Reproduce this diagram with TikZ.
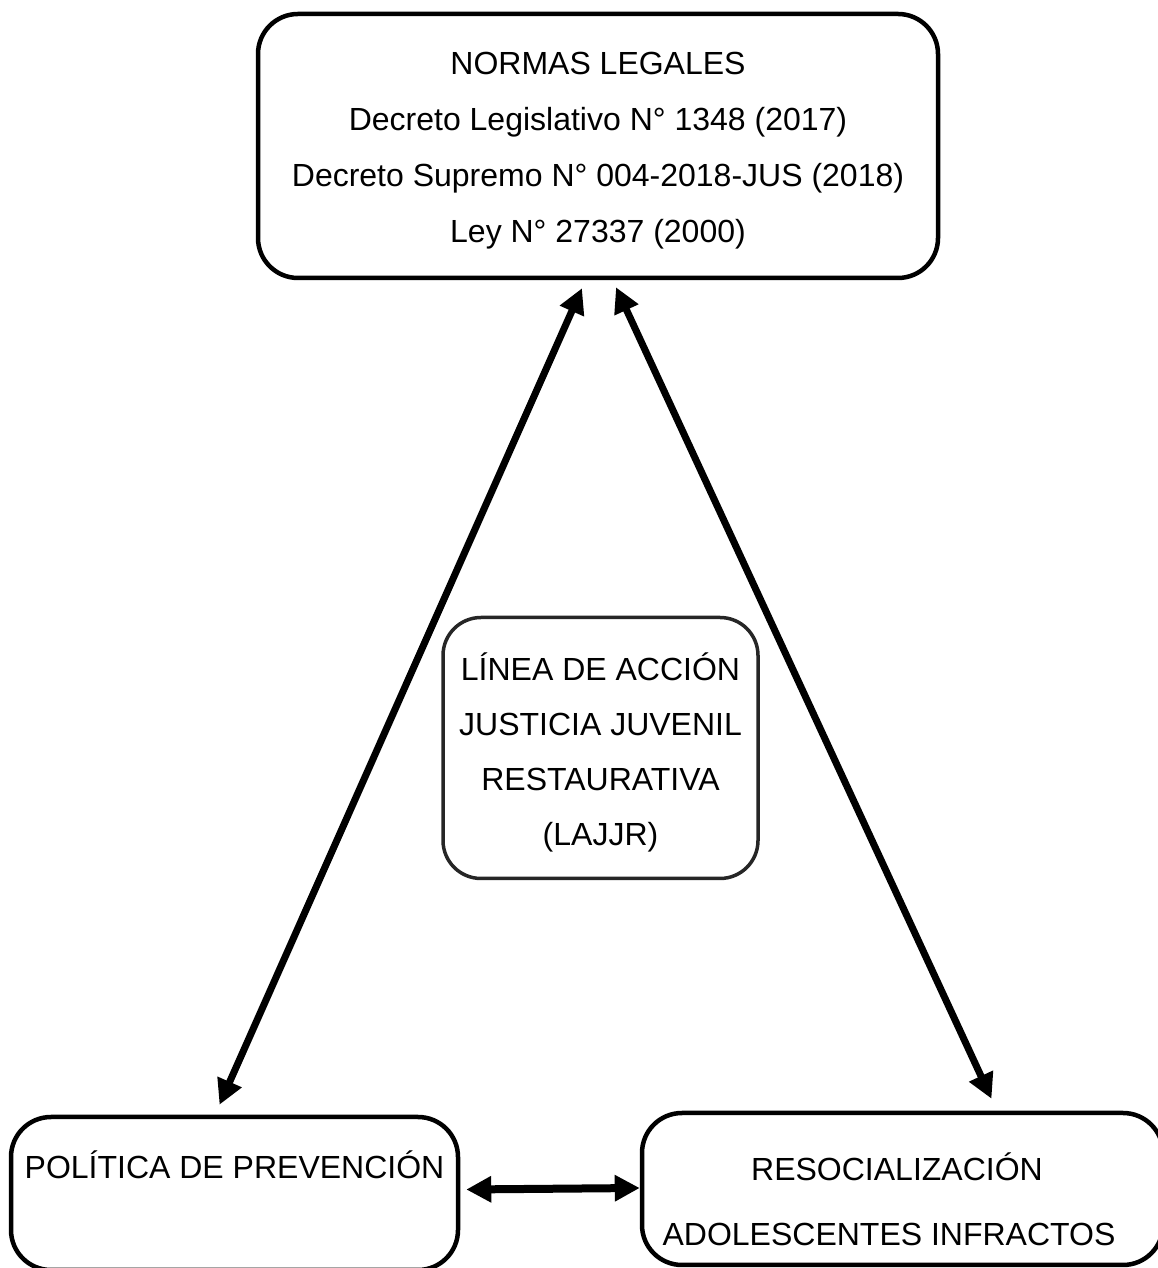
\documentclass[tikz,border=0pt]{standalone}
\usepackage{fontspec}
\setmainfont{Liberation Sans}
\usetikzlibrary{arrows.meta}
\begin{document}
\begin{tikzpicture}[x=1pt, y=1pt, >={Triangle[length=25pt,width=25pt]},
	box/.style={draw, line width=4.5pt, rounded corners=40pt, align=center,
		font=\fontsize{32}{55}\selectfont, inner sep=0pt},
	link/.style={<->, line width=7pt}]
	% Limiti della figura
	\useasboundingbox (0,0) rectangle (1157,1268);
	
	% --- Riquadri ---
	\node[box, minimum width=680, minimum height=264, font=\fontsize{32}{56}\selectfont] (norm) at (598,1122)
	{\rule{0pt}{31pt}NORMAS LEGALES\\Decreto Legislativo N° 1348 (2017)\\Decreto Supremo N° 004-2018-JUS (2018)\\Ley N° 27337 (2000)};
	\node[box, line width=3.5pt, draw=black!85, rounded corners=38pt,
	minimum width=315, minimum height=261] (lajjr) at (600.5,520)
	{\rule{0pt}{36pt}LÍNEA DE ACCIÓN\\JUSTICIA JUVENIL\\RESTAURATIVA\\(LAJJR)};
	\node[box, minimum width=447, minimum height=153, font=\fontsize{32}{65}\selectfont] (prev) at (234.5,74.5)
	{POLÍTICA DE PREVENCIÓN\\[-7pt] \mbox{}};
	\node[box, minimum width=521, minimum height=152, font=\fontsize{32}{65}\selectfont] (res) at (902.5,79)
	{\rule{0pt}{49pt}RESOCIALIZACIÓN\hspace*{11pt}\\ADOLESCENTES INFRACTOS\hspace*{27pt}};
	
	% --- Frecce ---
	\draw[link] ([xshift=-16pt,yshift=-8pt]norm.south) -- ([xshift=-15pt,yshift=10pt]prev.north);
	\draw[link] ([xshift=18pt,yshift=-7pt]norm.south) -- ([xshift=89pt,yshift=12pt]res.north);
	\draw[link, line width=8pt] ([xshift=6pt,yshift=4pt]prev.east) -- ([yshift=1pt]res.west);
\end{tikzpicture}
\end{document}
